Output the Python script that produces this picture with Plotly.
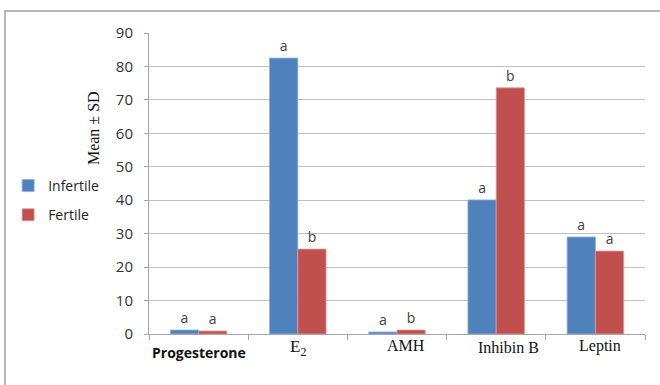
import plotly.graph_objects as go

# Hormone panel: group means for infertile vs fertile subjects
categories = ["Progesterone", "E2", "AMH", "Inhibin B", "Leptin"]
infertile = [1.2, 82.5, 0.6, 40.1, 29.0]
fertile = [0.9, 25.4, 1.2, 73.6, 24.8]
infertile_sig = ["a", "a", "a", "a", "a"]
fertile_sig = ["a", "b", "b", "b", "a"]

# Displayed category labels (mixed fonts, subscripts)
label_text = ["<b>Progesterone</b>", "E<sub>2</sub>", "AMH", "Inhibin B", "Leptin"]
label_font = ["Open Sans", "Liberation Serif", "Liberation Serif", "Liberation Serif", "Liberation Serif"]
label_size = [14, 17, 16, 16, 16]
label_dx = [0, 0, 9, 12, 5]
label_dy = [-18, -14, -11, -13, -12]

BLUE = "#4F81BD"
RED = "#C0504D"
GRID = "#BFBFBF"
AXIS = "#A6A6A6"

fig = go.Figure()
fig.add_trace(go.Bar(
    x=categories, y=infertile, name="Infertile", legendgroup="inf",
    marker=dict(color=BLUE, line=dict(color="#8FB0DC", width=0.8)),
    text=infertile_sig, textposition="outside", cliponaxis=False,
    textfont=dict(family="Open Sans", size=14, color="#404040"),
))
fig.add_trace(go.Bar(
    x=categories, y=fertile, name="Fertile", legendgroup="fer",
    marker=dict(color=RED, line=dict(color="#E09A98", width=0.8)),
    text=fertile_sig, textposition="outside", cliponaxis=False,
    textfont=dict(family="Open Sans", size=14, color="#404040"),
))

annotations = []
for cat, txt, fam, sz, dx, dy in zip(categories, label_text, label_font, label_size, label_dx, label_dy):
    annotations.append(dict(
        x=cat, y=0, xref="x", yref="y", text=txt, showarrow=False,
        font=dict(family=fam, size=sz, color="#111111"),
        xanchor="center", yanchor="middle", xshift=dx, yshift=dy,
    ))
annotations.append(dict(
    x=-0.113, y=0.684, xref="paper", yref="paper", text="Mean ± SD",
    textangle=-90, showarrow=False,
    font=dict(family="Liberation Serif", size=16, color="#111111"),
    xanchor="center", yanchor="middle",
))

fig.update_layout(
    width=660, height=385,
    margin=dict(l=149, r=15, t=33, b=51, autoexpand=False),
    paper_bgcolor="white", plot_bgcolor="white",
    barmode="group", bargap=0.43, bargroupgap=0,
    showlegend=True,
    legend=dict(
        x=-0.284, y=0.545, xanchor="left", yanchor="top",
        font=dict(family="Open Sans", size=14, color="#222222"),
        tracegroupgap=8, bgcolor="rgba(0,0,0,0)",
    ),
    annotations=annotations,
    shapes=[dict(
        type="rect", xref="paper", yref="paper",
        x0=-0.2903, x1=1.3, y0=-0.4, y1=1.0731,
        line=dict(color="#A0A0A0", width=1.5), fillcolor="rgba(0,0,0,0)",
        layer="below",
    )],
    xaxis=dict(
        showticklabels=False, ticks="outside", tickson="boundaries",
        ticklen=5, tickcolor=AXIS, showgrid=False, automargin=False,
        showline=True, linecolor=AXIS, linewidth=1,
    ),
    yaxis=dict(
        range=[0, 90], dtick=10, ticks="outside", ticklen=4, tickcolor=AXIS,
        showgrid=True, gridcolor=GRID, gridwidth=1, automargin=False,
        showline=True, linecolor=AXIS, linewidth=1, zeroline=False,
        tickfont=dict(family="Open Sans", size=15, color="#333333"),
        ticklabelstandoff=8,
    ),
)

fig.write_html("out.html")
